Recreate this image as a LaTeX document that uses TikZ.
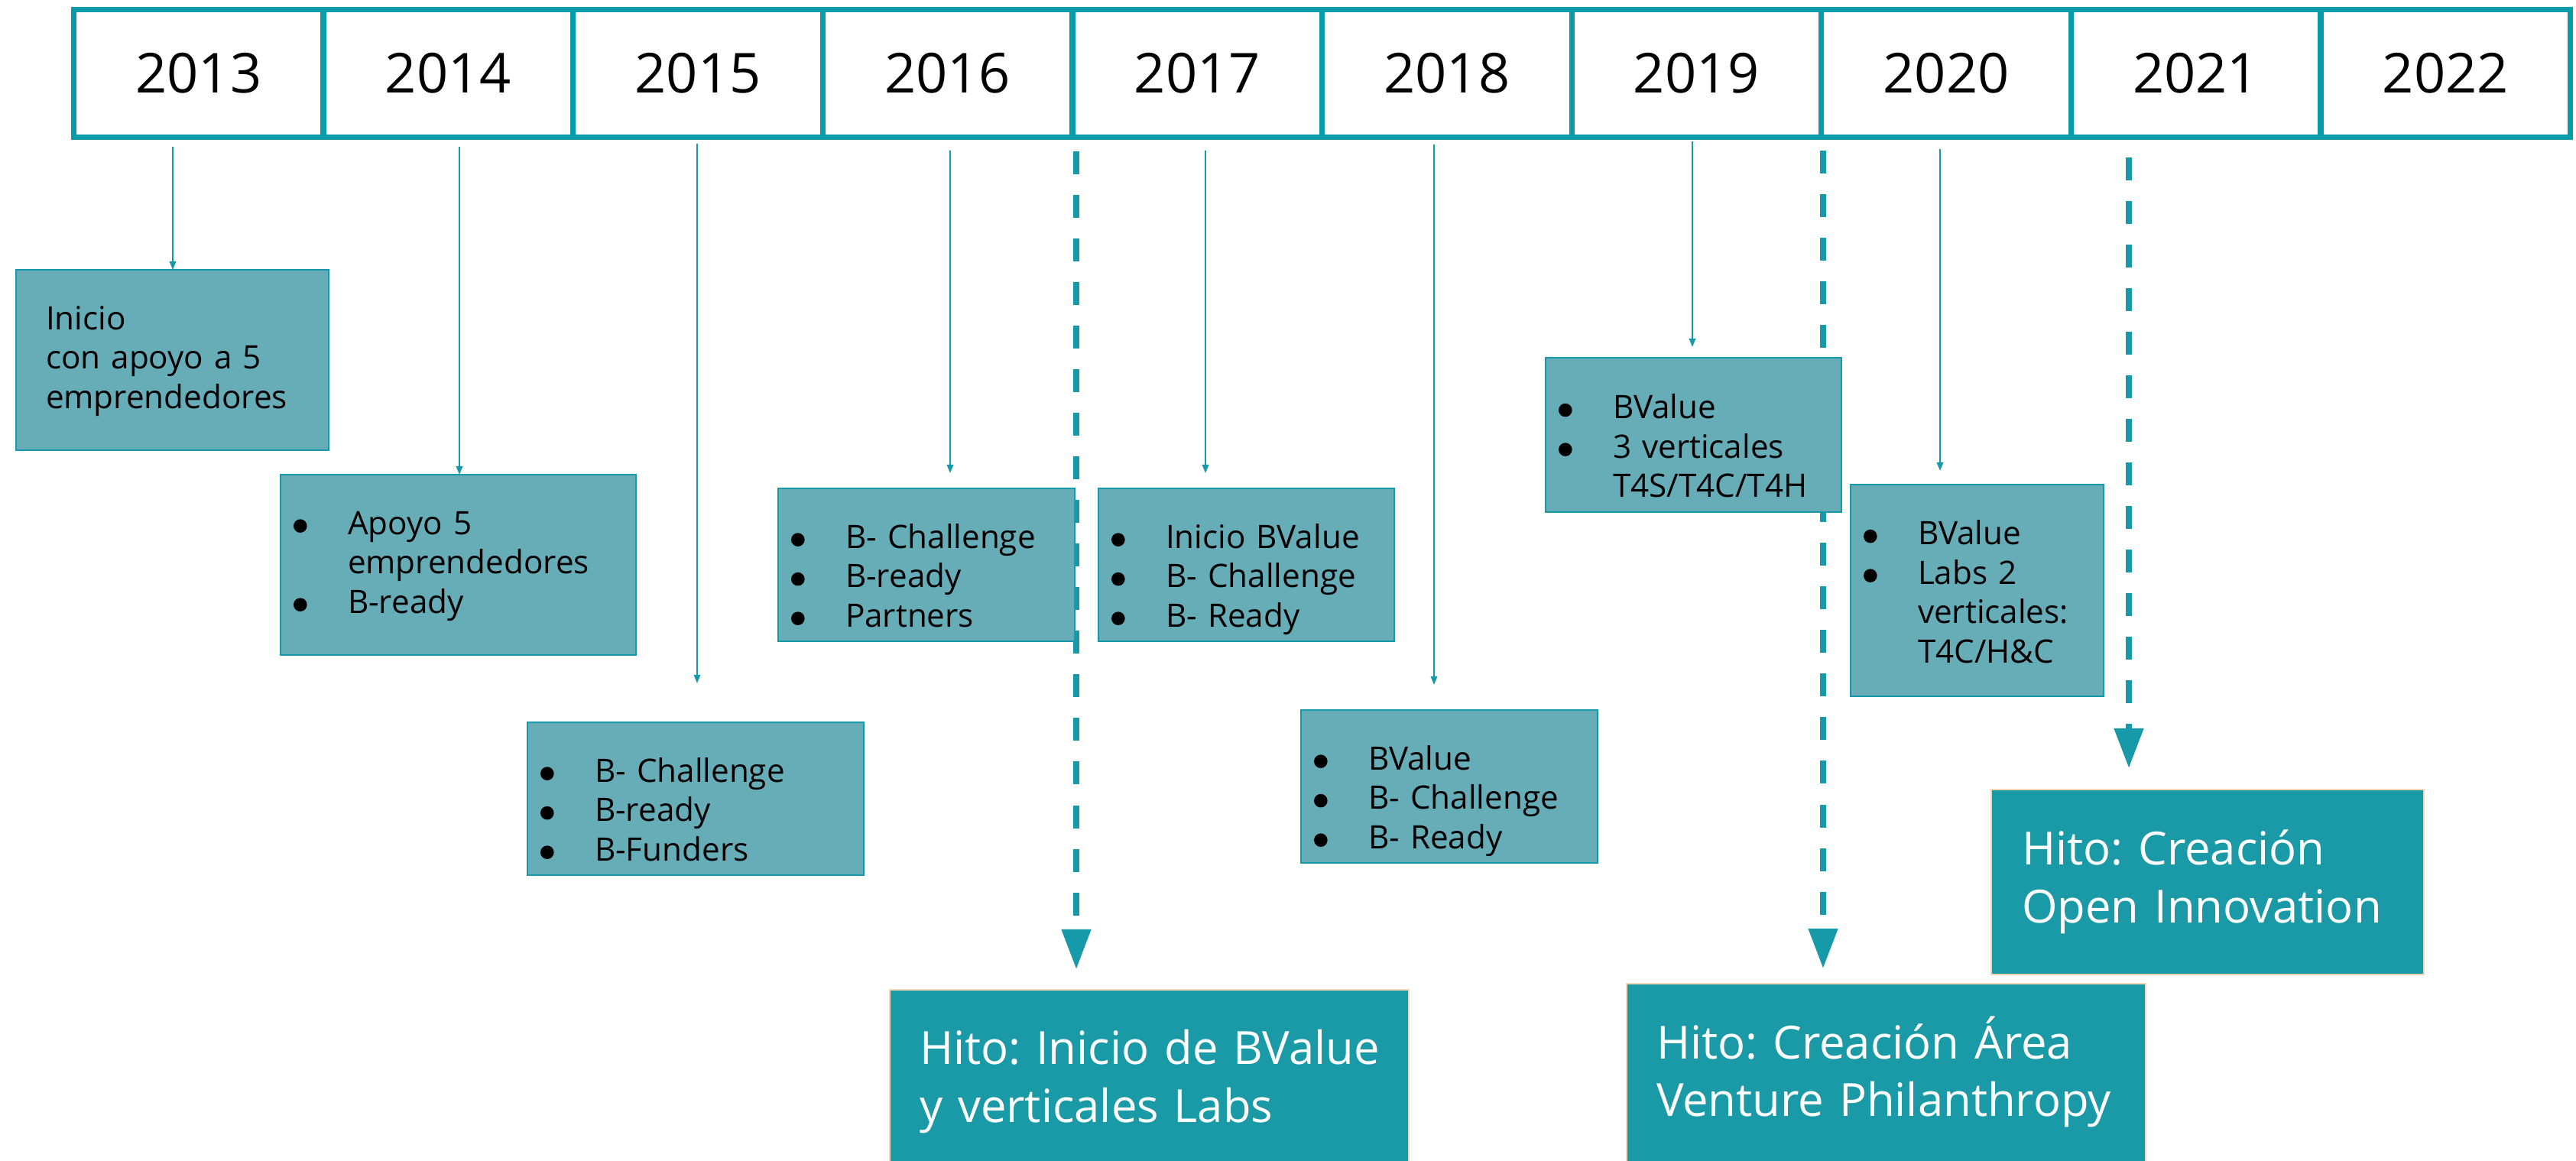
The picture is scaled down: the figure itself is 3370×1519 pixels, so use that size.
\documentclass[tikz,border=0pt]{standalone}
\usepackage{fontspec}
\setmainfont{Open Sans}
\frenchspacing
\usetikzlibrary{arrows.meta,backgrounds}
\definecolor{barline}{RGB}{8,156,170}
\definecolor{boxfill}{RGB}{102,173,184}
\definecolor{boxline}{RGB}{22,154,170}
\definecolor{hitofill}{RGB}{26,154,166}
\definecolor{hitoline}{RGB}{240,214,180}
\definecolor{arrowc}{RGB}{22,154,170}
\newcommand{\bul}{\makebox[0.71cm][l]{\raisebox{0.6pt}{\tikz\fill[black] (0,0) circle (0.088cm);}}}
\newcommand{\ind}{\hspace*{0.71cm}}
\tikzset{
 yearcell/.style={draw=barline, line width=2pt, minimum width=3.266cm, minimum height=1.67cm, inner sep=0pt, outer sep=0pt, font=\fontsize{20.5}{24}\selectfont},
 listbox/.style={draw=boxline, line width=0.6pt, fill=boxfill, anchor=north west, inner xsep=0.17cm, inner ysep=0pt, outer sep=0pt, align=left, text=black, font=\fontsize{12}{14.65}\selectfont, text height=0.78cm},
 hitobox/.style={draw=hitoline, line width=0.6pt, fill=hitofill, anchor=north west, inner xsep=0.39cm, inner ysep=0pt, outer sep=0pt, align=left, text=white, font=\fontsize{17}{21.5}\selectfont, text height=0.98cm},
 thinarrow/.style={draw=arrowc, line width=0.55pt, -{Triangle[length=0.11cm,width=0.085cm]}},
 dasharrow/.style={draw=arrowc, line width=2.2pt, dash pattern=on 0.30cm off 0.27cm, -{Triangle[length=0.52cm,width=0.37cm]}},
}
\begin{document}
\begin{tikzpicture}[x=0.01cm, y=-0.01cm]
\useasboundingbox (0,0) rectangle (3370,1519);
\begin{scope}[on background layer]
 \fill[white] (0,0) rectangle (3370,1519);
\end{scope}
% year bar
\foreach \i/\yr in {0/2013,1/2014,2/2015,3/2016,4/2017,5/2018,6/2019,7/2020,8/2021,9/2022}{
 \node[yearcell] (y\yr) at ({259.8+326.6*\i},96) {\yr};
}
% list boxes
\node[listbox, inner xsep=0.39cm, text width=3.31cm, text depth=1.58cm] (b13) at (21,353) {Inicio\\con apoyo a 5\\emprendedores};
\node[listbox, text width=4.31cm, text depth=1.58cm] (b14) at (367,621) {\bul Apoyo 5\\\ind emprendedores\\\bul B-ready};
\node[listbox, text width=4.06cm, text depth=1.22cm] (b15) at (690,945) {\bul B- Challenge\\\bul B-ready\\\bul B-Funders};
\node[listbox, text width=3.54cm, text depth=1.22cm] (b16) at (1018,639) {\bul B- Challenge\\\bul B-ready\\\bul Partners};
\node[listbox, text width=3.53cm, text depth=1.22cm] (b17) at (1437,639) {\bul Inicio BValue\\\bul B- Challenge\\\bul B- Ready};
\node[listbox, text width=3.54cm, text depth=1.22cm] (b18) at (1702,929) {\bul BValue\\\bul B- Challenge\\\bul B- Ready};
\node[listbox, text width=3.53cm, text height=0.795cm, text depth=1.22cm] (b19) at (2022,468) {\bul BValue\\\bul 3 verticales\\\ind T4S/T4C/T4H};
\node[listbox, text width=2.97cm, text height=0.785cm, text depth=1.98cm] (b20) at (2421,634) {\bul BValue\\\bul Labs 2\\\ind verticales:\\\ind T4C/H\&C};
% milestone boxes
\node[hitobox, text width=6.01cm, text height=0.975cm, text depth=1.50cm] (h1) at (1164,1295) {\mbox{Hito: Inicio de BValue}\\\mbox{y verticales Labs}};
\node[hitobox, text width=6.01cm, text depth=1.60cm] (h2) at (2128,1287) {\mbox{Hito: Creación Área}\\\mbox{Venture Philanthropy}};
\node[hitobox, inner xsep=0.40cm, text width=4.86cm, text height=0.985cm, text depth=1.43cm] (h3) at (2605,1033) {\mbox{Hito: Creación}\\\mbox{Open Innovation}};
% connectors
\begin{scope}[on background layer]
 \coordinate (s13) at (226,192);
 \coordinate (s14) at (601,192);
 \coordinate (s15) at (912,188);
 \coordinate (s16) at (1243,197);
 \coordinate (s17) at (1577,197);
 \coordinate (s18) at (1876,189);
 \coordinate (s19) at (2214,185);
 \coordinate (s20) at (2538,195);
 \coordinate (d1) at (1408,198);
 \coordinate (d2) at (2385,197);
 \coordinate (d3) at (2785,206);
 \draw[thinarrow] (s13) -- (s13 |- b13.north);
 \draw[thinarrow] (s14) -- (s14 |- b14.north);
 \draw[thinarrow, shorten >=0.51cm] (s15) -- (s15 |- b15.north);
 \draw[thinarrow, shorten >=0.20cm] (s16) -- (s16 |- b16.north);
 \draw[thinarrow, shorten >=0.20cm] (s17) -- (s17 |- b17.north);
 \draw[thinarrow, shorten >=0.33cm] (s18) -- (s18 |- b18.north);
 \draw[thinarrow, shorten >=0.14cm] (s19) -- (s19 |- b19.north);
 \draw[thinarrow, shorten >=0.18cm] (s20) -- (s20 |- b20.north);
 \draw[dasharrow, shorten >=0.27cm] (d1) -- (d1 |- h1.north);
 \draw[dasharrow, shorten >=0.20cm] (d2) -- (d2 |- h2.north);
 \draw[dasharrow, shorten >=0.28cm] (d3) -- (d3 |- h3.north);
\end{scope}
\end{tikzpicture}
\end{document}
